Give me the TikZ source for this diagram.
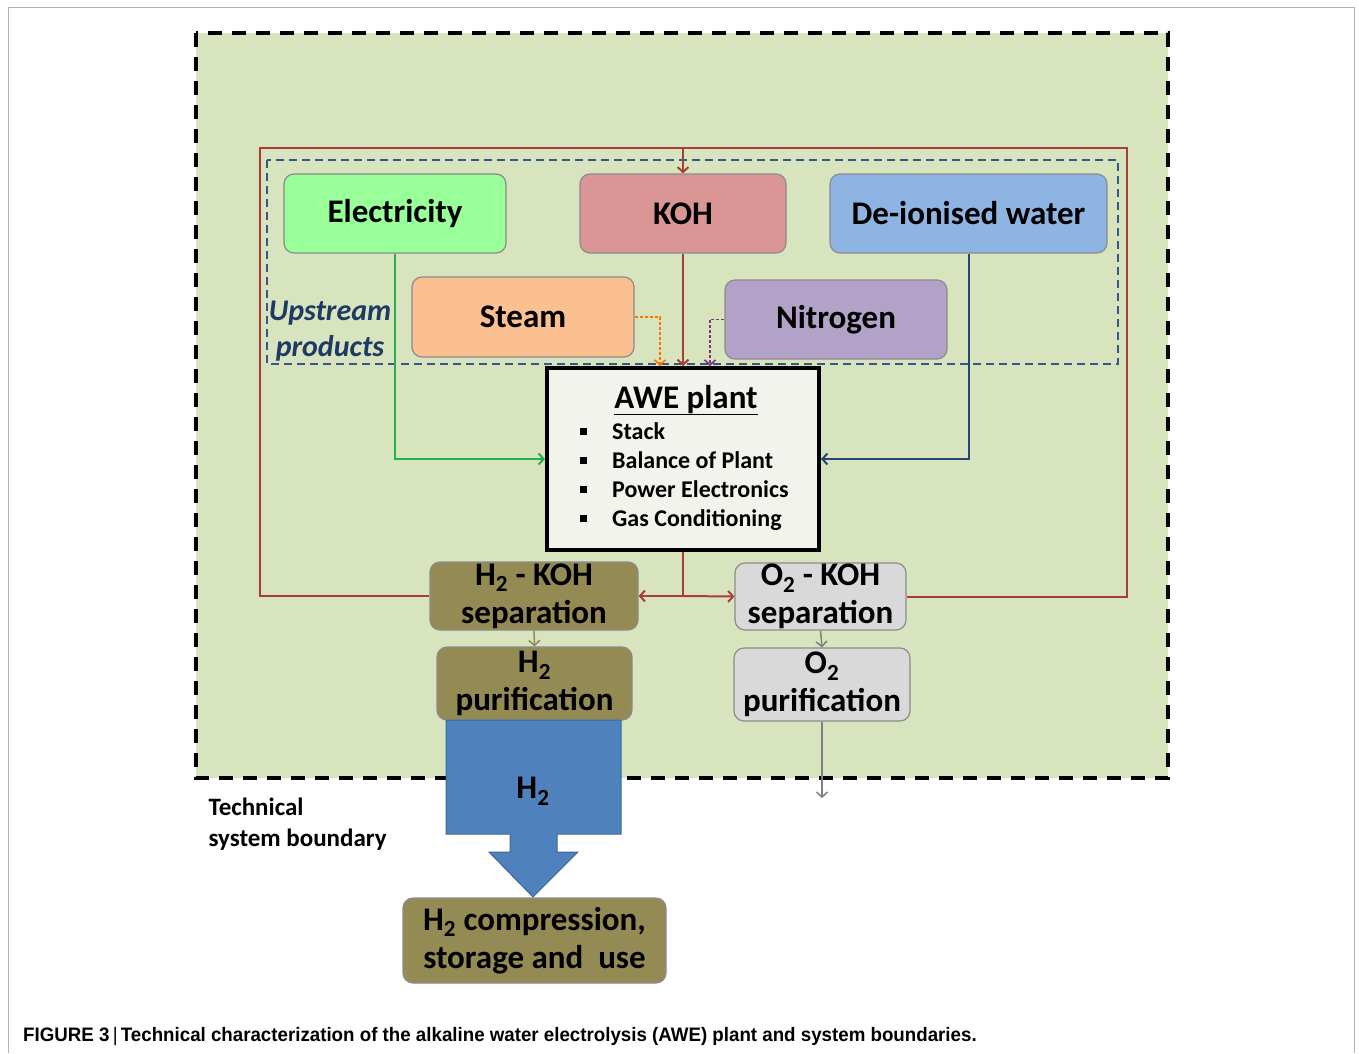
\documentclass[tikz,border=0pt]{standalone}
\usepackage{fontspec}
\setmainfont{Carlito}
\newfontfamily\capfont[FakeStretch=0.96]{Liberation Sans}
\usetikzlibrary{arrows.meta,positioning,calc}

\definecolor{bggreen}{RGB}{216,228,190}
\definecolor{loopred}{RGB}{168,62,60}
\definecolor{upblue}{RGB}{52,88,140}
\definecolor{uptext}{RGB}{31,56,100}
\definecolor{boxgray}{RGB}{140,140,140}
\definecolor{elecfill}{RGB}{153,255,153}
\definecolor{kohfill}{RGB}{217,150,148}
\definecolor{dwfill}{RGB}{141,180,226}
\definecolor{steamfill}{RGB}{250,192,144}
\definecolor{nitrofill}{RGB}{179,162,199}
\definecolor{olive}{RGB}{148,138,84}
\definecolor{lightgray}{RGB}{217,217,217}
\definecolor{plantfill}{RGB}{243,243,238}
\definecolor{elecline}{RGB}{34,176,77}
\definecolor{dwline}{RGB}{40,70,115}
\definecolor{flowblue}{RGB}{79,129,189}

\begin{document}
\begin{tikzpicture}[x=1pt,y=-1pt,>={Straight Barb[length=5pt,width=11pt]},
  box/.style={draw=boxgray,line width=1.2pt,rounded corners=10pt,inner sep=0pt,
    align=center,font=\fontsize{33}{38}\selectfont\bfseries},
  feed/.style={line width=2pt},
  dots/.style={line width=1.6pt,dash pattern=on 3pt off 2pt}]
\useasboundingbox (0,0) rectangle (1359,1053);

% page frame and technical system boundary
\draw[gray!60,line width=1pt] (8,1053) -- (8,7) -- (1354,7) -- (1354,1053);
\draw[fill=bggreen,line width=4pt,dash pattern=on 14pt off 10pt] (196,33) rectangle (1168,778);

% upstream products
\draw[upblue,line width=2pt,dash pattern=on 8pt off 5pt] (267,160) rectangle (1118,364);
\node[font=\fontsize{30}{36}\selectfont\bfseries\itshape,text=uptext,align=center] (upstr) at (330,331) {Upstream\\ products};

\node[box,fill=elecfill,minimum width=222,minimum height=79] (elec) at (395,213.5) {Electricity};
\node[box,fill=kohfill,minimum width=206,minimum height=79] (koh) at (683,213.5) {KOH};
\node[box,fill=dwfill,minimum width=277,minimum height=79] (dw) at (968.5,213.5) {De-ionised water};
\node[box,fill=steamfill,minimum width=222,minimum height=80] (steam) at (523,317) {Steam};
\node[box,fill=nitrofill,minimum width=222,minimum height=79] (nitro) at (836,319.5) {Nitrogen};

% electrolysis plant
\node[draw,line width=4pt,fill=plantfill,minimum width=272,minimum height=182] (plant) at (683,459) {};
\node[anchor=base,font=\fontsize{33}{36}\selectfont\bfseries] (plantttl) at (686,408) {\underline{AWE plant}};
\foreach \y/\txt in {431/Stack,460/Balance of Plant,489/Power Electronics,518/Gas Conditioning}{
  \fill (579.5,\y-3.5) rectangle ++(7,7);
  \node[anchor=base west,inner sep=0pt,font=\fontsize{24}{27}\selectfont\bfseries] at (612,\y+8.5) {\txt};
}

% gas treatment
\node[box,fill=olive,minimum width=208,minimum height=68] (h2sep) at (534,596) {H\textsubscript{2} - KOH\\ separation};
\node[box,fill=lightgray,minimum width=171,minimum height=67] (o2sep) at (820.5,596.5) {O\textsubscript{2} - KOH\\ separation};
\node[box,fill=olive,minimum width=195,minimum height=73] (h2pur) at (534.5,683.5) {H\textsubscript{2}\\ purification};
\node[box,fill=lightgray,minimum width=176,minimum height=73] (o2pur) at (822,684.5) {O\textsubscript{2}\\ purification};

% product hydrogen
\draw[fill=flowblue,draw=flowblue!80!black,line width=1pt]
  (446,720) -- (621,720) -- (621,834) -- (557,834) -- (557,852) -- (578,852)
  -- (533,897) -- (489,852) -- (510,852) -- (510,834) -- (446,834) -- cycle;
\node[font=\fontsize{33}{36}\selectfont\bfseries] (h2flow) at (533,791) {H\textsubscript{2}};
\node[box,fill=olive,minimum width=263,minimum height=85] (h2use) at (534.5,940.5) {H\textsubscript{2} compression,\\ storage and~ use};

\node[anchor=west,align=left,font=\fontsize{25}{31}\selectfont\bfseries] (tsb) at (205,824) {Technical\\ system boundary};

% feeds into the plant
\draw[feed,elecline,->] (elec.south) |- (plant.west);
\draw[feed,dwline,->] (dw.south) |- (plant.east);
\draw[feed,loopred,->] (koh.south) -- (plant.north);
\draw[dots,orange!90!red,->] (steam.east) -| ([xshift=-23pt]plant.north);
\draw[dots,violet!60!gray,->] (nitro.west) -| ([xshift=27pt]plant.north);

% KOH recirculation loop
\coordinate (loopL) at (260,148);
\coordinate (loopR) at (1127,148);
\coordinate (split) at (plant.south |- h2sep.east);
\draw[feed,loopred] (h2sep.west) -| (loopL) -- (loopR) |- (o2sep.east);
\draw[feed,loopred,->] (koh.north |- loopL) -- (koh.north);
\draw[feed,loopred] (plant.south) -- (split);
\draw[feed,loopred,->] (split) -- (h2sep.east);
\draw[feed,loopred,->] (split) -- (o2sep.west);

% gas paths
\coordinate (o2out) at (822,798);
\draw[line width=1.5pt,olive!70!gray,->] (h2sep.south) -- (h2pur.north);
\draw[line width=1.5pt,gray,->] (o2sep.south) -- (o2pur.north);
\draw[line width=1.5pt,gray,->] (o2pur.south) -- (o2out);

\node[anchor=base west,inner sep=0pt,font=\capfont\fontsize{19.5}{22}\selectfont\bfseries] (cap) at (23,1041)
  {FIGURE 3\,{\mdseries|}\,Technical characterization of the alkaline water electrolysis (AWE) plant and system boundaries.};
\end{tikzpicture}
\end{document}
